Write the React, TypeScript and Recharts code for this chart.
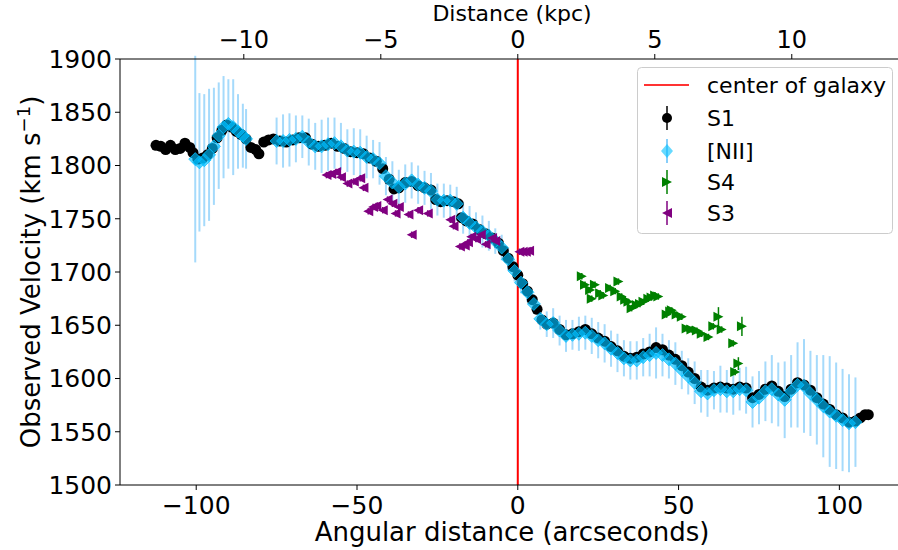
import React from 'react';
import {
  ScatterChart,
  Scatter,
  XAxis,
  YAxis,
  ErrorBar,
  ReferenceLine,
  Legend,
} from 'recharts';

// S1 (black circles): [arcsec, km/s]
const s1Points = [
  [-112.5, 1819], [-111, 1818], [-109.5, 1815], [-108, 1819], [-106.5, 1815], [-105, 1816],
  [-103.5, 1821], [-102, 1817], [-101, 1812], [-99.5, 1806], [-98, 1807], [-96.5, 1810],
  [-95, 1816], [-93.5, 1826], [-92, 1833], [-90.5, 1838], [-89, 1836], [-87.5, 1832],
  [-86, 1829], [-84.5, 1825], [-83, 1817], [-81.5, 1815], [-80.5, 1811], [-79, 1822],
  [-77.5, 1824], [-76, 1825], [-74, 1823], [-72, 1822], [-70, 1824], [-68, 1826],
  [-66, 1826], [-64, 1820], [-62, 1818], [-60, 1819], [-58, 1821], [-56, 1818],
  [-54, 1816], [-52, 1813], [-50, 1812], [-48, 1811], [-46, 1807], [-44, 1804],
  [-42, 1797], [-40, 1787], [-38.5, 1778], [-37, 1779], [-35, 1784], [-33, 1785],
  [-31, 1781], [-29, 1779], [-27, 1777], [-25.5, 1768], [-24, 1766], [-22, 1767],
  [-20, 1766], [-18.5, 1764], [-17.5, 1751], [-16, 1748], [-14, 1745], [-12, 1740],
  [-10, 1736], [-8, 1732], [-6, 1727], [-4.5, 1720], [-3, 1713], [-1.5, 1705],
  [0, 1697], [1.5, 1689], [3, 1682], [4.5, 1674], [6, 1665], [7.5, 1655],
  [9, 1651], [11, 1652], [13, 1646], [15, 1641], [17, 1642], [19, 1644],
  [21, 1646], [23, 1642], [25, 1638], [27, 1635], [29, 1630], [31, 1626],
  [33, 1621], [35, 1619], [37, 1620], [39, 1623], [41, 1625], [43, 1629],
  [45, 1627], [47, 1622], [49, 1618], [51, 1612], [53, 1606], [55, 1600],
  [57, 1592], [59, 1589], [61, 1591], [63, 1592], [65, 1591], [67, 1590],
  [69, 1592], [71, 1591], [73, 1582], [75, 1585], [77, 1590], [79, 1593],
  [81, 1588], [83, 1583], [85, 1590], [87, 1596], [89, 1594], [91, 1589],
  [93, 1582], [95, 1576], [97, 1571], [99, 1566], [101, 1563], [103, 1559],
  [105, 1560], [106.5, 1563], [108, 1566], [109, 1566],
];

// [NII] (blue diamonds): [arcsec, km/s, error]
const niiPoints = [
  [-100.3, 1806, 97], [-99, 1803, 65], [-97.5, 1805, 62], [-96, 1810, 62], [-94.5, 1818, 55],
  [-93, 1828, 50], [-91.5, 1836, 48], [-90, 1839, 42], [-88.5, 1836, 45], [-87, 1832, 35],
  [-85.5, 1828, 30], [-84.5, 1825, 28],
  [-75, 1823, 22], [-73, 1823, 25], [-71, 1824, 25], [-69, 1825, 22], [-67, 1827, 20],
  [-65, 1822, 22], [-63, 1818, 22], [-61, 1818, 25], [-59, 1820, 25], [-57, 1821, 24],
  [-55, 1818, 22], [-53, 1814, 20], [-51, 1813, 22], [-49, 1812, 22], [-47, 1808, 20],
  [-45, 1806, 18], [-43, 1802, 20], [-41, 1790, 18], [-39, 1784, 20], [-37, 1780, 16],
  [-35, 1783, 18], [-33, 1786, 17], [-31, 1782, 18], [-29, 1779, 16], [-27, 1776, 17],
  [-25, 1768, 15], [-23, 1767, 16], [-21, 1767, 15], [-19, 1764, 16], [-17, 1751, 15],
  [-15, 1746, 16], [-13, 1742, 14], [-11, 1738, 15], [-9, 1734, 14], [-7, 1729, 12],
  [-5, 1723, 12], [-3, 1712, 11], [-1, 1701, 10], [1, 1690, 10], [3, 1681, 9],
  [5, 1670, 9], [7, 1656, 10], [9, 1651, 12], [11, 1652, 14], [13, 1645, 14],
  [15, 1640, 15], [17, 1641, 14], [19, 1642, 16], [21, 1643, 16], [23, 1640, 17],
  [25, 1636, 17], [27, 1633, 18], [29, 1628, 17], [31, 1624, 18], [33, 1619, 17],
  [35, 1617, 18], [37, 1617, 18], [39, 1620, 18], [41, 1622, 20], [43, 1624, 24],
  [45, 1622, 20], [47, 1618, 18], [49, 1614, 20], [51, 1608, 18], [53, 1602, 17],
  [55, 1596, 20], [57, 1588, 20], [59, 1586, 22], [61, 1589, 18], [63, 1590, 22],
  [65, 1588, 20], [67, 1588, 22], [69, 1590, 20], [71, 1589, 22], [73, 1578, 24],
  [75, 1582, 25], [77, 1588, 28], [79, 1590, 32], [81, 1585, 30], [83, 1580, 36],
  [85, 1588, 34], [87, 1594, 40], [89, 1593, 44], [91, 1586, 40], [93, 1580, 42],
  [95, 1574, 48], [97, 1569, 52], [99, 1565, 50], [101, 1561, 48], [103, 1558, 46],
  [105, 1559, 42],
];

// S4 (green, right triangles): [arcsec, km/s, error]
const s4Points = [
  [19.9, 1696, 3], [20.9, 1688, 3], [22.5, 1683, 3], [23, 1675, 3], [24, 1688, 3],
  [25.6, 1680, 3], [26.6, 1678, 3], [28.7, 1685, 3], [30.3, 1682, 3], [31.3, 1691, 3],
  [32.3, 1677, 3], [33.4, 1674, 3], [34.4, 1672, 3], [35.4, 1666, 3], [37, 1669, 3],
  [38, 1670, 3], [39.1, 1672, 3], [40.6, 1675, 3], [41.6, 1676, 3], [42.7, 1678, 3],
  [43.7, 1677, 3], [46.3, 1660, 3], [47.4, 1663, 3], [47.9, 1664, 3], [49.4, 1660, 3],
  [51, 1658, 3], [52.5, 1647, 3], [54, 1646, 3], [55.7, 1645, 3], [57.2, 1642, 3],
  [59.3, 1639, 3], [60.8, 1649, 3], [62.4, 1658, 9], [63.4, 1646, 3], [67, 1633, 3],
  [69.7, 1649, 9], [68.6, 1614, 6], [67.6, 1606, 3],
];

// S3 (purple, left triangles): [arcsec, km/s, error]
const s3Points = [
  [-59.5, 1791, 3], [-58, 1792, 3], [-56.5, 1794, 3], [-55, 1789, 3], [-53, 1783, 3],
  [-51, 1785, 3], [-49, 1788, 3], [-48, 1779, 3], [-46.5, 1757, 3], [-45, 1761, 3],
  [-44, 1762, 3], [-42, 1758, 3], [-40.5, 1768, 3], [-39, 1764, 3], [-38, 1755, 3],
  [-37, 1761, 3], [-34, 1754, 3], [-33, 1735, 3], [-31, 1758, 3], [-28, 1755, 3],
  [-21, 1749, 3], [-20, 1743, 3], [-18, 1724, 3], [-16.5, 1725, 3], [-15.5, 1728, 3],
  [-14.5, 1733, 3], [-13, 1731, 3], [-11.5, 1735, 3], [-10, 1726, 3], [-8, 1732, 3],
  [-7, 1729, 3], [0.5, 1719, 3], [1.5, 1719, 3], [2.5, 1719, 3], [3.5, 1720, 3],
];

const xTicks = [-100, -50, 0, 50, 100];
const kpcTicks = [-10, -5, 0, 5, 10];
const yTicks = [1500, 1550, 1600, 1650, 1700, 1750, 1800, 1850, 1900];

const ARCSEC_PER_KPC = 8.52;
const X_MIN = -123.7;
const X_MAX = 120.1;

const FONT = '"DejaVu Sans", sans-serif';
const NII_FILL = '#00bfff';
const NII_BAR = '#87cefa';

const toRows = (pts: number[][]) => pts.map((p) => ({ x: p[0], v: p[1], err: p[2] ?? 0 }));

const fmt = (v: number) => (v < 0 ? '\u2212' + Math.abs(v) : String(v));
const fmtKpc = (v: number) => fmt(Math.round(v / ARCSEC_PER_KPC));

const circle = (p: any) => <circle cx={p.cx} cy={p.cy} r={5.5} fill="#000" />;
const diamond = (p: any) => (
  <path
    d={`M${p.cx},${p.cy - 6.5}L${p.cx + 6.5},${p.cy}L${p.cx},${p.cy + 6.5}L${p.cx - 6.5},${p.cy}Z`}
    fill={NII_FILL}
    fillOpacity={0.65}
    stroke={NII_FILL}
    strokeOpacity={0.75}
    strokeWidth={1}
  />
);
const triRight = (color: string) => (p: any) => (
  <path d={`M${p.cx + 5},${p.cy}L${p.cx - 5},${p.cy - 5}L${p.cx - 5},${p.cy + 5}Z`} fill={color} />
);
const triLeft = (color: string) => (p: any) => (
  <path d={`M${p.cx - 5},${p.cy}L${p.cx + 5},${p.cy - 5}L${p.cx + 5},${p.cy + 5}Z`} fill={color} />
);
const nothing = () => <g />;

function LegendBox() {
  const rows = [51, 84, 115, 146];
  return (
    <svg width={257} height={168} style={{ display: 'block' }}>
      <rect x={0.5} y={0.5} width={255} height={166} rx={4} fill="#fff" fillOpacity={0.8} stroke="#cccccc" />
      <line x1={7} x2={52} y1={18} y2={18} stroke="#ff0000" strokeWidth={2} strokeOpacity={0.8} />
      <text x={70} y={18} dominantBaseline="central" fontSize={22} fontFamily={FONT} fill="#000">
        center of galaxy
      </text>
      {/* S1 */}
      <line x1={30} x2={30} y1={rows[0] - 12} y2={rows[0] + 12} stroke="#000" strokeWidth={1.5} />
      <circle cx={30} cy={rows[0]} r={5} fill="#000" />
      {/* [NII] */}
      <line x1={30} x2={30} y1={rows[1] - 12} y2={rows[1] + 12} stroke={NII_BAR} strokeWidth={2} />
      <path d={`M30,${rows[1] - 7}L36,${rows[1]}L30,${rows[1] + 7}L24,${rows[1]}Z`} fill={NII_FILL} fillOpacity={0.6} />
      {/* S4 */}
      <line x1={30} x2={30} y1={rows[2] - 12} y2={rows[2] + 12} stroke="#008000" strokeWidth={1.5} />
      <path d={`M35,${rows[2]}L25,${rows[2] - 5}L25,${rows[2] + 5}Z`} fill="#008000" />
      {/* S3 */}
      <line x1={30} x2={30} y1={rows[3] - 12} y2={rows[3] + 12} stroke="#800080" strokeWidth={1.5} />
      <path d={`M25,${rows[3]}L35,${rows[3] - 5}L35,${rows[3] + 5}Z`} fill="#800080" />
      {['S1', '[NII]', 'S4', 'S3'].map((t, i) => (
        <text key={t} x={70} y={rows[i]} dominantBaseline="central" fontSize={22} fontFamily={FONT} fill="#000">
          {t}
        </text>
      ))}
    </svg>
  );
}

const yLabel = () => (
  <text
    transform="translate(40,272) rotate(-90)"
    textAnchor="middle"
    fontSize={26}
    fontFamily={FONT}
    fill="#000"
  >
    Observed Velocity (km s
    <tspan dy={-10} fontSize={18}>
      {'\u22121'}
    </tspan>
    <tspan dy={10}>)</tspan>
  </text>
);

const bottomLabel = () => (
  <text x={512} y={541} textAnchor="middle" fontSize={26} fontFamily={FONT} fill="#000">
    Angular distance (arcseconds)
  </text>
);

const topLabel = () => (
  <text x={512} y={20.5} textAnchor="middle" fontSize={22} fontFamily={FONT} fill="#000">
    Distance (kpc)
  </text>
);

export default function App() {
  const tickStyle = { fontSize: 25, fontFamily: FONT, fill: '#000' };
  return (
    <div
      style={{
        position: 'fixed',
        left: 0,
        top: 0,
        width: 898,
        height: 550,
        overflow: 'hidden',
        background: '#fff',
      }}
    >
      <ScatterChart width={914} height={550} margin={{ top: 0, right: 10, bottom: 0, left: 0 }}>
        <XAxis
          dataKey="x"
          type="number"
          domain={[X_MIN, X_MAX]}
          ticks={xTicks}
          tickFormatter={fmt}
          allowDataOverflow
          height={65}
          tick={tickStyle}
          tickSize={5}
          tickMargin={6}
          stroke="#000"
          label={bottomLabel}
        />
        <XAxis
          xAxisId="top"
          dataKey="x"
          orientation="top"
          type="number"
          domain={[X_MIN, X_MAX]}
          ticks={kpcTicks.map((k) => k * ARCSEC_PER_KPC)}
          tickFormatter={fmtKpc}
          allowDataOverflow
          height={59}
          tick={{ ...tickStyle, fontSize: 24 }}
          tickSize={5}
          tickMargin={6}
          stroke="#000"
          label={topLabel}
        />
        <YAxis
          dataKey="v"
          type="number"
          domain={[1500, 1900]}
          ticks={yTicks}
          allowDataOverflow
          width={120}
          tick={tickStyle}
          tickSize={5}
          tickMargin={3}
          stroke="#000"
          label={yLabel}
        />
        <ReferenceLine x={0} stroke="#ff0000" strokeWidth={2} />
        {/* binds the kpc axis on top to the same x range */}
        <Scatter
          xAxisId="top"
          data={toRows(s1Points)}
          shape={nothing}
          legendType="none"
          isAnimationActive={false}
        />
        <Scatter name="S1" data={toRows(s1Points)} shape={circle} isAnimationActive={false} />
        <Scatter name="[NII]" data={toRows(niiPoints)} shape={diamond} isAnimationActive={false}>
          <ErrorBar dataKey="err" direction="y" width={0} stroke={NII_BAR} strokeWidth={2} strokeOpacity={0.75} />
        </Scatter>
        <Scatter name="S4" data={toRows(s4Points)} shape={triRight('#008000')} isAnimationActive={false}>
          <ErrorBar dataKey="err" direction="y" width={0} stroke="#008000" strokeWidth={1.5} />
        </Scatter>
        <Scatter name="S3" data={toRows(s3Points)} shape={triLeft('#800080')} isAnimationActive={false}>
          <ErrorBar dataKey="err" direction="y" width={0} stroke="#800080" strokeWidth={1.5} />
        </Scatter>
        <Legend
          layout="vertical"
          align="center"
          verticalAlign="middle"
          wrapperStyle={{ position: 'absolute', left: 637, top: 67, width: 257, height: 168 }}
          content={() => <LegendBox />}
        />
      </ScatterChart>
    </div>
  );
}
